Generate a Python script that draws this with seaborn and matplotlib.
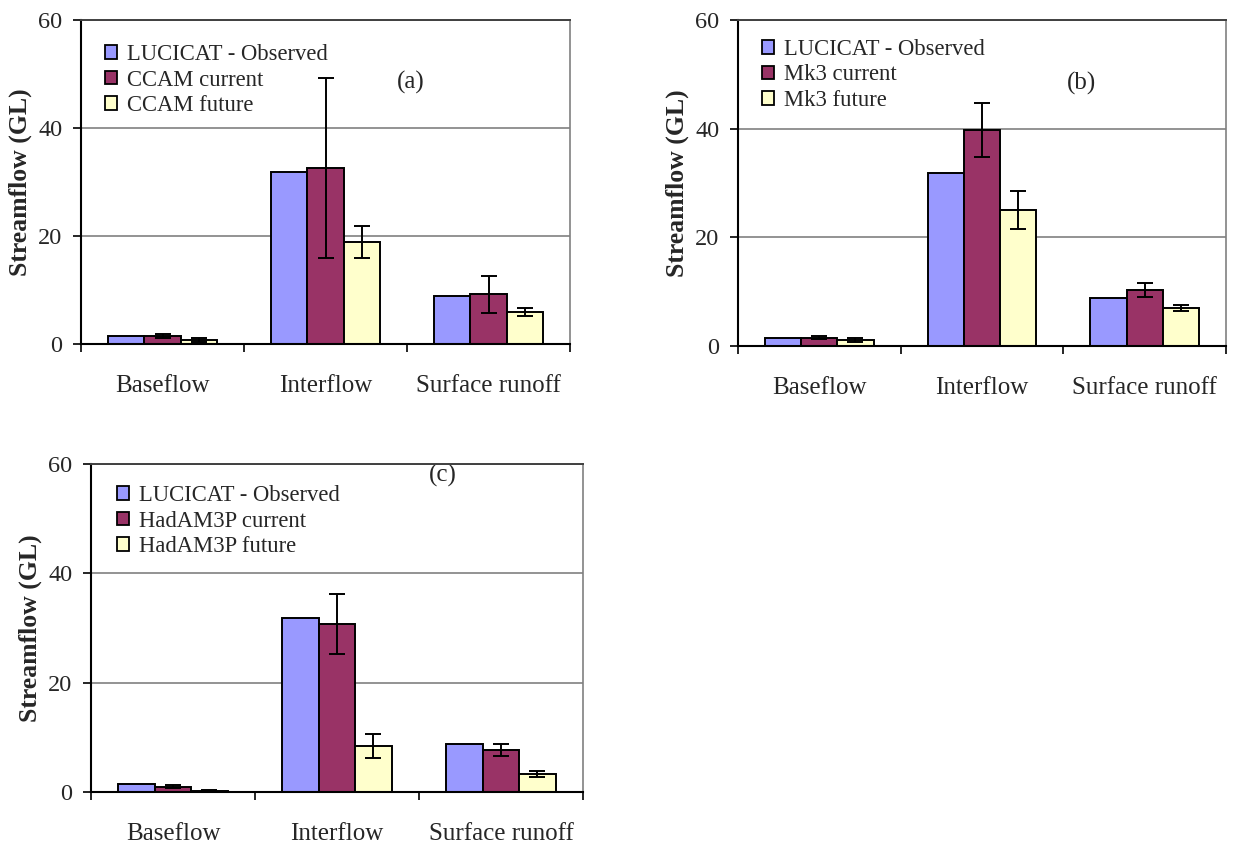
import numpy as np
import pandas as pd
import matplotlib
matplotlib.use("Agg")
import matplotlib.pyplot as plt
import seaborn as sns
from matplotlib.patches import Patch
from matplotlib.ticker import FixedLocator

# ---------------- data ----------------
categories = ["Baseflow", "Interflow", "Surface runoff"]
observed = [1.4, 31.9, 8.8]

ccam_current = [1.5, 32.6, 9.2]
ccam_current_err = [0.4, 16.7, 3.4]
ccam_future = [0.75, 18.9, 5.9]
ccam_future_err = [0.35, 2.9, 0.7]

mk3_current = [1.5, 39.8, 10.3]
mk3_current_err = [0.3, 5.0, 1.25]
mk3_future = [1.1, 25.1, 7.0]
mk3_future_err = [0.3, 3.5, 0.55]

had_current = [1.0, 30.8, 7.6]
had_current_err = [0.35, 5.5, 1.1]
had_future = [0.25, 8.4, 3.3]
had_future_err = [0.1, 2.2, 0.55]

yticks = [0, 20, 40, 60]
colors = ["#9999FF", "#993366", "#FFFFCC"]

# ---------------- style ----------------
sns.set_theme(style="white")
plt.rcParams['font.family'] = ['Liberation Serif', 'DejaVu Serif']

W, H = 1233, 846
fig = plt.figure(figsize=(W / 100, H / 100), dpi=100)


def make_ax(left, top, right, bottom):
    return fig.add_axes([left / W, 1 - bottom / H, (right - left) / W, (bottom - top) / H])


def panel(ax, models, values, errors, tag, tagpos, legpos):
    df = pd.DataFrame({
        "Category": categories * 3,
        "Series": np.repeat(models, 3),
        "Streamflow": np.concatenate(values),
    })
    sns.barplot(data=df, x="Category", y="Streamflow", hue="Series",
                order=categories, hue_order=models, palette=colors,
                width=2 / 3, gap=0, edgecolor="black", linewidth=1.4,
                errorbar=None, saturation=1, legend=False, ax=ax, zorder=3)
    for cont, vals, errs in zip(ax.containers[1:], values[1:], errors):
        xs = [p.get_x() + p.get_width() / 2 for p in cont]
        ax.errorbar(xs, vals, yerr=errs, fmt="none", ecolor="black",
                    elinewidth=1.4, capsize=5.5, capthick=1.4, zorder=5)

    ax.set_xlim(-0.5, 2.5)
    ax.set_ylim(0, 60)
    ax.set_yticks(yticks)
    ax.set_yticklabels([str(t) for t in yticks])
    ax.yaxis.grid(True, color="#808080", linewidth=1.2, zorder=0)
    ax.set_axisbelow(True)

    ax.set_xticks(range(len(categories)))
    ax.set_xticklabels(categories)
    ax.xaxis.set_minor_locator(FixedLocator([-0.5, 0.5, 1.5, 2.5]))
    ax.tick_params(axis="x", which="major", length=0, pad=22, labelsize=18,
                   bottom=True)
    ax.tick_params(axis="x", which="minor", length=5.5, width=1.2,
                   direction="out", color="black", bottom=True)
    ax.tick_params(axis="y", which="major", length=5.5, width=1.2,
                   direction="out", color="black", pad=8, labelsize=17.5,
                   left=True)

    for side in ("left", "bottom"):
        ax.spines[side].set_color("black")
        ax.spines[side].set_linewidth(1.5)
    ax.spines["top"].set_color("#404040")
    ax.spines["top"].set_linewidth(1.4)
    ax.spines["right"].set_color("#808080")
    ax.spines["right"].set_linewidth(1.2)
    for s in ax.spines.values():
        s.set_zorder(6)

    ax.set_xlabel("")
    ax.set_ylabel("Streamflow (GL)", fontsize=18.5, fontweight="bold",
                  labelpad=4)

    handles = [Patch(facecolor=c, edgecolor="black", linewidth=1.3, label=m)
               for c, m in zip(colors, models)]
    ax.legend(handles=handles, loc="upper left", bbox_to_anchor=legpos,
              frameon=False, fontsize=16.3, handlelength=0.55,
              handleheight=0.55, handletextpad=0.42, labelspacing=0.2,
              borderpad=0, borderaxespad=0)

    ax.text(tagpos[0], tagpos[1], tag, fontsize=18, ha="center", va="center")


ax_a = make_ax(81, 20, 570, 344)
panel(ax_a, ["LUCICAT - Observed", "CCAM current", "CCAM future"],
      [observed, ccam_current, ccam_future],
      [ccam_current_err, ccam_future_err], "(a)", (1.52, 48.4), (0.049, 0.926))

ax_b = make_ax(738, 20, 1226, 346)
panel(ax_b, ["LUCICAT - Observed", "Mk3 current", "Mk3 future"],
      [observed, mk3_current, mk3_future],
      [mk3_current_err, mk3_future_err], "(b)", (1.61, 48.4), (0.049, 0.942))

ax_c = make_ax(91, 464, 583, 792)
panel(ax_c, ["LUCICAT - Observed", "HadAM3P current", "HadAM3P future"],
      [observed, had_current, had_future],
      [had_current_err, had_future_err], "(c)", (1.646, 57.9), (0.052, 0.936))

fig.savefig("out.png", dpi=100)
